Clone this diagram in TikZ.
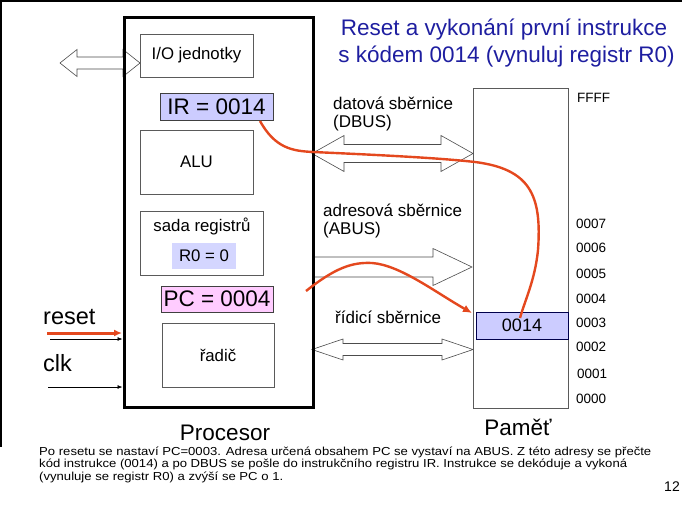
\documentclass[tikz,border=0pt]{standalone}
\usepackage{fontspec}
\setmainfont{Liberation Sans}
\newfontfamily\captfont[FakeStretch=1.13]{Liberation Sans}
\usetikzlibrary{arrows.meta}
\definecolor{titleblue}{RGB}{30,30,160}
\definecolor{lav}{RGB}{204,204,255}
\definecolor{lavlight}{RGB}{212,214,255}
\definecolor{pinkpc}{RGB}{255,204,255}
\definecolor{redline}{RGB}{228,72,30}
\definecolor{boxline}{RGB}{90,90,90}
\newcommand\busarrow[6]{%
  \draw[busline] (#1,#3) -- ({#1+#4},{#3-#5}) -- ({#1+#4},{#3-#6}) -- ({#2-#4},{#3-#6})
    -- ({#2-#4},{#3-#5}) -- (#2,#3) -- ({#2-#4},{#3+#5}) -- ({#2-#4},{#3+#6})
    -- ({#1+#4},{#3+#6}) -- ({#1+#4},{#3+#5}) -- cycle;}
\tikzset{
  box/.style={draw=boxline, line width=0.7pt, inner sep=0pt, font=\fontsize{16.8}{18}\selectfont},
  regbox/.style={draw=black!75, line width=0.8pt, inner sep=0pt, font=\fontsize{22.5}{24}\selectfont},
  lbl/.style={inner sep=0pt, anchor=west, font=\fontsize{17}{18}\selectfont},
  addr/.style={inner sep=0pt, anchor=west, font=\fontsize{13.5}{15}\selectfont},
  big/.style={inner sep=0pt, font=\fontsize{22.5}{24}\selectfont},
  capt/.style={inner sep=0pt, anchor=west, font=\captfont\fontsize{11.6}{12}\selectfont},
  busline/.style={draw=black!70, fill=white, line width=0.6pt},
  redcurve/.style={draw=redline, line width=2.4pt},
  frame/.style={line width=2pt, black}
}
\begin{document}
\begin{tikzpicture}[x=1pt,y=-1pt]
\useasboundingbox (0,0) rectangle (700,506);
% slide frame
\draw[frame] (0,1) -- (682,1);
\draw[frame] (1,0) -- (1,447);
% title
\node[big, text=titleblue] (t1) at (504,30) {Reset a vykonání první instrukce};
\node[big, text=titleblue] (t2) at (506.5,57) {s kódem 0014 (vynuluj registr R0)};
% buses (drawn before boxes)
\busarrow{60}{140}{63}{17}{13.5}{6}
\busarrow{312}{473}{153.5}{32}{18}{9}
\draw[busline] (312,257) -- (433,257) -- (433,248.5) -- (472,267) -- (433,285.5) -- (433,277) -- (312,277);
\busarrow{312}{473}{349.5}{31}{10.5}{6}
% processor
\node[draw=black, line width=3pt, minimum width=189pt, minimum height=390pt, inner sep=0pt] (proc) at (218.5,212) {};
\node[box, fill=white, minimum width=113pt, minimum height=43pt] (io) at (196.5,55.5) {I/O jednotky};
\node[regbox, fill=lav, minimum width=113pt, minimum height=27pt] (ir) at (216.5,106.5) {IR = 0014};
\node[box, minimum width=113pt, minimum height=64pt] (alu) at (196.5,162) {ALU};
\node[box, minimum width=123pt, minimum height=64pt] (regs) at (201.5,243) {};
\node[inner sep=0pt, font=\fontsize{16.8}{18}\selectfont] (regst) at (202,226) {sada registrů};
\node[inner sep=0pt, fill=lavlight, minimum width=64pt, minimum height=26pt, font=\fontsize{16.8}{18}\selectfont] (r0) at (204,256) {R0 = 0};
\node[regbox, fill=pinkpc, minimum width=112pt, minimum height=26pt] (pc) at (217,299) {PC = 0004};
\node[box, minimum width=112pt, minimum height=64pt] (radic) at (218,355) {řadič};
\node[big] (proct) at (225,433) {Procesor};
% inputs
\node[big, anchor=west, font=\fontsize{23.5}{25}\selectfont] (reset) at (43,317) {reset};
\node[big, anchor=west, font=\fontsize{23.5}{25}\selectfont] (clk) at (43,363) {clk};
\coordinate (rin) at (50,339);
\coordinate (cin) at (48,387);
\draw[line width=0.7pt, -{Latex[length=5pt,width=4pt]}] (rin) -- (rin -| proc.west);
\draw[line width=0.7pt, -{Latex[length=5pt,width=4pt]}] (cin) -- (cin -| proc.west);
\coordinate (rred) at (47,333);
\draw[redline, line width=3pt, -{Latex[length=8pt,width=7pt]}] (rred) -- (122,333);
% memory
\node[draw=boxline, line width=0.7pt, minimum width=95pt, minimum height=320pt, inner sep=0pt] (mem) at (520.5,248) {};
\node[draw=black!70!blue, line width=0.8pt, fill=lav, minimum width=92pt, minimum height=27pt, inner sep=0pt, font=\fontsize{18}{20}\selectfont] (cell) at (522,325.5) {0014};
\node[big] (memt) at (518,427) {Paměť};
% addresses
\node[addr] (aF) at (577,98) {FFFF};
\node[addr] (a7) at (576,224) {0007};
\node[addr] (a6) at (576,248) {0006};
\node[addr] (a5) at (576,274) {0005};
\node[addr] (a4) at (576,299) {0004};
\node[addr] (a3) at (576,323) {0003};
\node[addr] (a2) at (576,347) {0002};
\node[addr] (a1) at (577,374) {0001};
\node[addr] (a0) at (576,399) {0000};
% bus labels
\node[lbl] (db1) at (333,103) {datová sběrnice};
\node[lbl] (db2) at (333,123) {(DBUS)};
\node[lbl] (ab1) at (323,210) {adresová sběrnice};
\node[lbl] (ab2) at (323,230) {(ABUS)};
\node[lbl] (cb1) at (335,317) {řídicí sběrnice};
% red curves
\coordinate (irout) at (260,121);
\coordinate (cellin) at (520,318);
\draw[redcurve] (irout) .. controls (275,148) and (292,151) .. (313,152)
  .. controls (380,155) and (440,158) .. (475,162)
  .. controls (530,169) and (542,195) .. (538,250)
  .. controls (535,280) and (525,300) .. (cellin);
\coordinate (pcout) at (306,291);
\coordinate (cellarr) at (472,313);
\draw[redcurve, -{Latex[length=9pt,width=8pt]}] (pcout) .. controls (335,268) and (352,262) .. (372,263)
  .. controls (400,265) and (435,292) .. (cellarr);
% caption
\node[capt] (c1) at (39,452) {Po resetu se nastaví PC=0003. Adresa určená obsahem PC se vystaví na ABUS. Z této adresy se přečte};
\node[capt] (c2) at (39,464.5) {kód instrukce (0014) a po DBUS se pošle do instrukčního registru IR. Instrukce se dekóduje a vykoná};
\node[capt] (c3) at (39,477) {(vynuluje se registr R0) a zvýší se PC o 1.};
\node[inner sep=0pt, anchor=east, font=\fontsize{14}{15}\selectfont] (pg) at (680,487) {12};
\end{tikzpicture}
\end{document}
